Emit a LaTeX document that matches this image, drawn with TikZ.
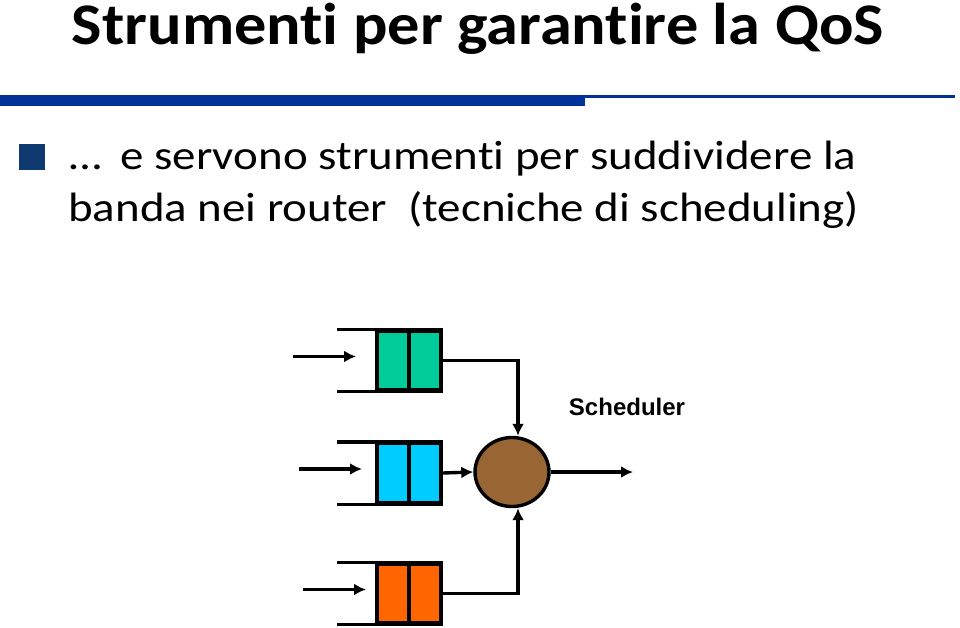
\documentclass[tikz,border=0pt]{standalone}
\usepackage{fontspec}
\setmainfont{Carlito}[Ligatures=NoCommon]
\newfontfamily\arialbold{Liberation Sans}[BoldFont={* Bold}]
\usetikzlibrary{calc,arrows.meta,shapes.geometric}
\usepackage{xcolor}
\definecolor{barblue}{HTML}{003399}
\definecolor{bulletblue}{HTML}{0E3A70}
\definecolor{qgreen}{HTML}{00CC99}
\definecolor{qcyan}{HTML}{00CCFF}
\definecolor{qorange}{HTML}{FF6600}
\definecolor{schedbrown}{HTML}{996633}
\tikzset{
  qbox/.style={draw, line width=3.4pt, rectangle, minimum width=64pt, minimum height=59pt, inner sep=0pt},
  flow/.style={line width=3.4pt, -{Latex[length=12pt,width=12pt]}},
  wire/.style={line width=3.4pt},
  slidetext/.style={anchor=base west, inner sep=0pt, xscale=1.145, transform shape, font=\fontsize{41}{52}\selectfont}
}

\begin{document}
\begin{tikzpicture}[x=1pt,y=-1pt]
		\useasboundingbox (0,0) rectangle (960,627);
		% title and bar
		\node[anchor=base, inner sep=0pt, xscale=1.09, transform shape, font=\fontsize{59}{70}\selectfont\bfseries] (title) at (478,44) {Strumenti per garantire la QoS};
		\fill [barblue] (0,95) rectangle (585,106);
		\fill [barblue] (585,95) rectangle (955,97.5);

		% bullet text
		\fill [bulletblue] (19,144) rectangle (45,170);
		\node[slidetext] (lineA) at (69,169) {…\hspace{0.4em}e servono strumenti per suddividere la};
		\node[slidetext] (lineB) at (68,221) {banda nei router\ \ (tecniche di scheduling)};

		% scheduler
		\node[draw, ellipse, line width=3.4pt, fill=schedbrown, minimum width=74pt, minimum height=69pt] (sched) at (512,472) {};
		\node[font=\arialbold\fontsize{24}{28}\selectfont\bfseries] (label) at (627,407) {Scheduler};
		\coordinate (out) at (633,472);
		\draw [flow] (sched.east) -- (out);

		% the three queues
		\foreach \i/\y/\col/\xin in {1/360.5/qgreen/293, 2/473/qcyan/299, 3/593.5/qorange/303}{%
			\node[qbox, fill=\col] (q\i) at (409,\y) {};
			\draw [wire] (q\i.north) -- (q\i.south);% divider
			\draw [wire] (q\i.north east) -- ++(-106,0);
			\draw [wire] (q\i.south east) -- ++(-106,0);
			\coordinate (in\i) at (\xin,\y-4);
			\draw [flow] (in\i) -- ++(63,0);
		}
		\draw [flow] (q1.east) -| ([xshift=6pt]sched.north);
		\draw [flow] (q2.east) -- (sched.west);
		\draw [flow] (q3.east) -| ([xshift=6pt]sched.south);
	  \end{tikzpicture}
\end{document}
